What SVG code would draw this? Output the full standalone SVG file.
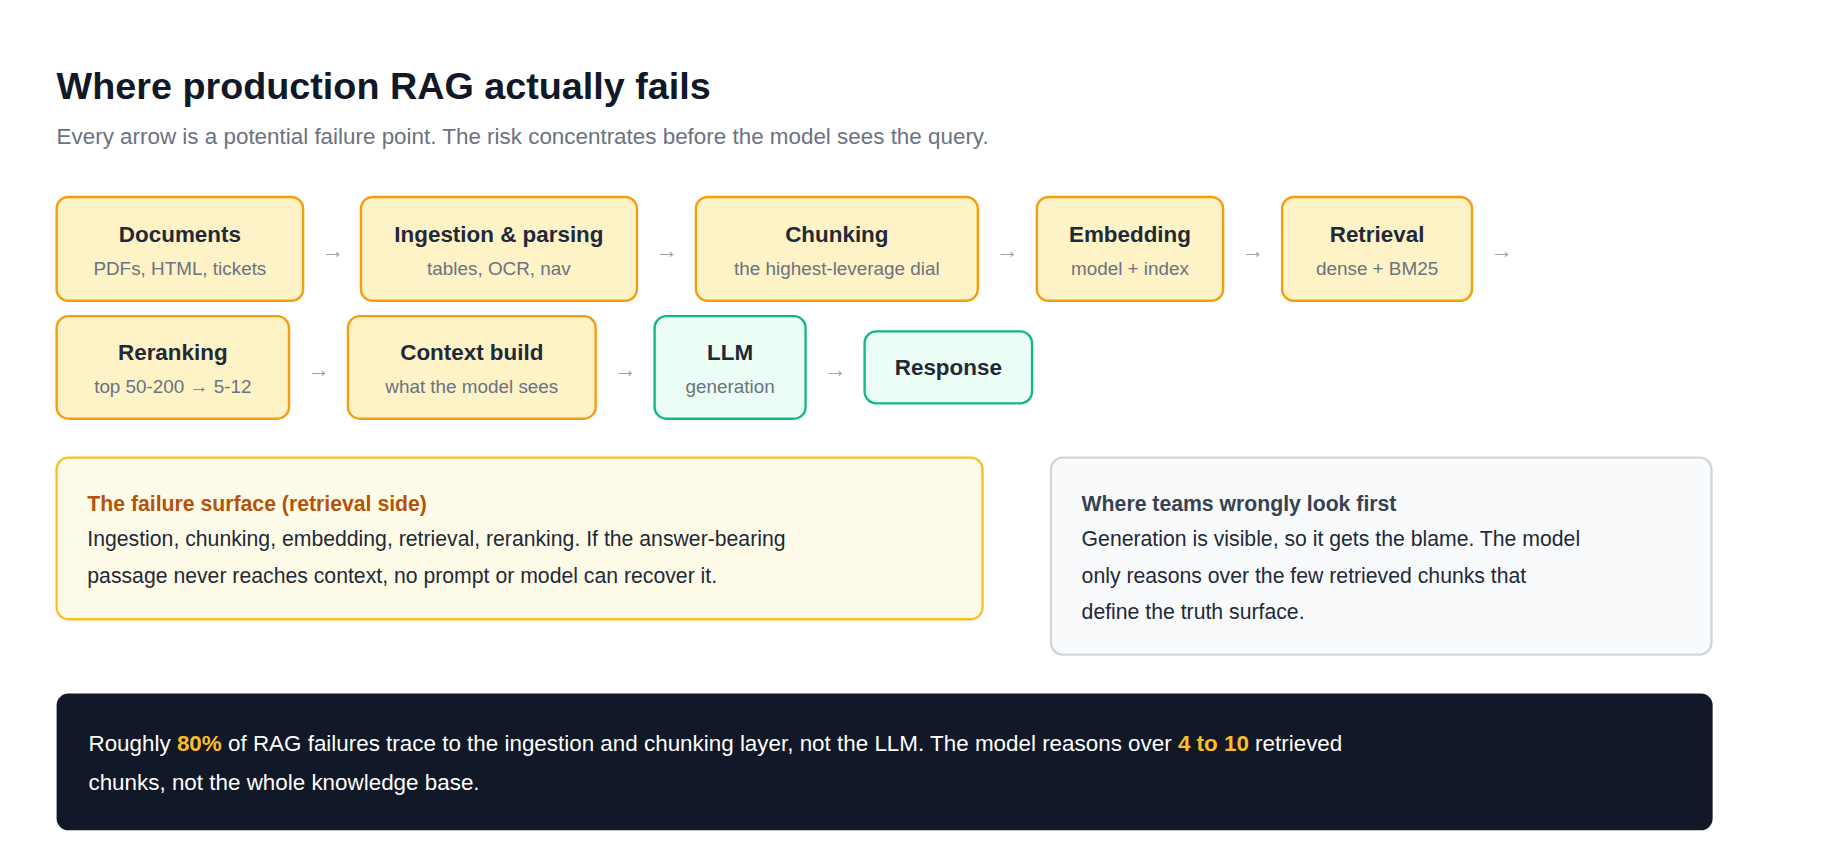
<svg xmlns="http://www.w3.org/2000/svg" width="1840" height="843" viewBox="0 0 1840 843">
<style>
text{font-family:"Liberation Sans",Arial,sans-serif}
.t{font-size:19px;font-weight:bold;fill:#1f2937;text-anchor:middle}
.s{font-size:16px;fill:#6b7280;text-anchor:middle}
.y{fill:#fef3c7;stroke:#f59e0b;stroke-width:2}
.g{fill:#ecfdf5;stroke:#10b981;stroke-width:2}
.a{font-size:19px;fill:#9ca3af;text-anchor:middle}
.b{font-size:18px;fill:#1f2937}
</style>
<rect width="1840" height="843" fill="#fff"/>
<g transform="scale(1.1795)">
<text x="48" y="84" font-size="32" font-weight="bold" fill="#111827">Where production RAG actually fails</text>
<text x="48" y="122" font-size="19" fill="#6b7280">Every arrow is a potential failure point. The risk concentrates before the model sees the query.</text>
<g id="documents"><rect class="y" x="48" y="167" width="209" height="88" rx="10"/><text class="t" x="152.5" y="205">Documents</text><text class="s" x="152.5" y="233">PDFs, HTML, tickets</text></g>
<g id="ingestion"><rect class="y" x="306" y="167" width="234" height="88" rx="10"/><text class="t" x="423" y="205">Ingestion &amp; parsing</text><text class="s" x="423" y="233">tables, OCR, nav</text></g>
<g id="chunking"><rect class="y" x="590" y="167" width="239" height="88" rx="10"/><text class="t" x="709.5" y="205">Chunking</text><text class="s" x="709.5" y="233">the highest-leverage dial</text></g>
<g id="embedding"><rect class="y" x="879" y="167" width="158" height="88" rx="10"/><text class="t" x="958" y="205">Embedding</text><text class="s" x="958" y="233">model + index</text></g>
<g id="retrieval"><rect class="y" x="1087" y="167" width="161" height="88" rx="10"/><text class="t" x="1167.5" y="205">Retrieval</text><text class="s" x="1167.5" y="233">dense + BM25</text></g>
<g id="reranking"><rect class="y" x="48" y="268" width="197" height="87" rx="10"/><text class="t" x="146.5" y="305">Reranking</text><text class="s" x="146.5" y="333">top 50-200 → 5-12</text></g>
<g id="context"><rect class="y" x="295" y="268" width="210" height="87" rx="10"/><text class="t" x="400" y="305">Context build</text><text class="s" x="400" y="333">what the model sees</text></g>
<g id="llm"><rect class="g" x="555" y="268" width="128" height="87" rx="10"/><text class="t" x="619" y="305">LLM</text><text class="s" x="619" y="333">generation</text></g>
<g id="response"><rect class="g" x="733" y="281" width="142" height="61" rx="10"/><text class="t" x="804" y="318">Response</text></g>
<g id="connectors">
<text class="a" x="282" y="219">→</text><text class="a" x="565" y="219">→</text><text class="a" x="854" y="219">→</text><text class="a" x="1062" y="219">→</text><text class="a" x="1273" y="219">→</text>
<text class="a" x="270" y="320">→</text><text class="a" x="530" y="320">→</text><text class="a" x="708" y="320">→</text>
</g>
<g id="failure-panel"><rect x="48" y="388" width="785" height="137" rx="10" fill="#fefce8" stroke="#fbbf24" stroke-width="2"/>
<text x="74" y="433" font-size="18" font-weight="bold" fill="#b45309">The failure surface (retrieval side)</text>
<text class="b" x="74" y="463">Ingestion, chunking, embedding, retrieval, reranking. If the answer-bearing</text>
<text class="b" x="74" y="494">passage never reaches context, no prompt or model can recover it.</text></g>
<g id="teams-panel"><rect x="891" y="388" width="560" height="167" rx="10" fill="#f8fafc" stroke="#d1d5db" stroke-width="2"/>
<text x="917" y="433" font-size="18" font-weight="bold" fill="#374151">Where teams wrongly look first</text>
<text class="b" x="917" y="463">Generation is visible, so it gets the blame. The model</text>
<text class="b" x="917" y="494">only reasons over the few retrieved chunks that</text>
<text class="b" x="917" y="525">define the truth surface.</text></g>
<g id="summary"><rect x="48" y="588" width="1404" height="116" rx="10" fill="#111827"/>
<text x="75" y="637" font-size="19" fill="#fff">Roughly <tspan fill="#fbbf24" font-weight="bold">80%</tspan> of RAG failures trace to the ingestion and chunking layer, not the LLM. The model reasons over <tspan fill="#fbbf24" font-weight="bold">4 to 10</tspan> retrieved</text>
<text x="75" y="670" font-size="19" fill="#fff">chunks, not the whole knowledge base.</text></g>
</g>
</svg>
